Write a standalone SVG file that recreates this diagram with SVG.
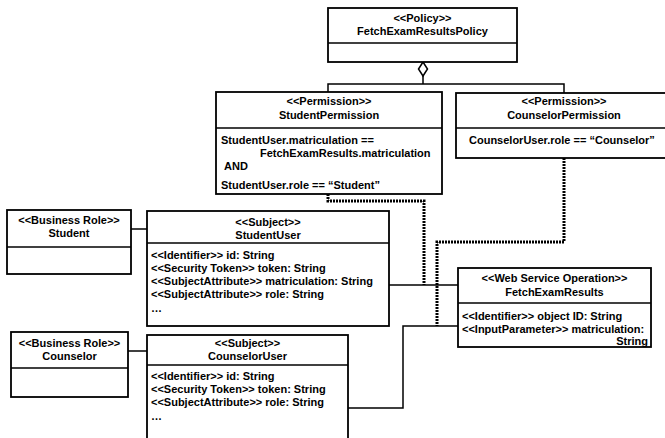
<svg xmlns="http://www.w3.org/2000/svg" width="665" height="438" viewBox="0 0 665 438">
<style>
.box{fill:#fff;stroke:#000;stroke-width:1.8}
.sep{stroke:#000;stroke-width:1.5}
.t{font-family:"Liberation Sans",Arial,sans-serif;font-size:11px;font-weight:bold;fill:#000}
.c{text-anchor:middle}
.e{text-anchor:end}
.ln{fill:none;stroke:#000;stroke-width:1.5}
.dot{fill:none;stroke:#000;stroke-width:3;stroke-dasharray:2 1}
</style>
<rect width="665" height="438" fill="#fff"/>
<g id="connectors">
<polygon points="423,62 427.5,69 423,76 418.5,69" fill="#fff" stroke="#000" stroke-width="1.5"/>
<polyline class="ln" points="423,76 423,84"/>
<polyline class="ln" points="328,92 328,84 564,84 564,93"/>
<polyline class="ln" points="131,229 147,229"/>
<polyline class="ln" points="128,351 147,351"/>
<polyline class="ln" points="389,285 458,285"/>
<polyline class="ln" points="348,408 403,408 403,326 458,326"/>
<polyline class="dot" points="328,194 328,201 424,201 424,285"/>
<polyline class="dot" points="564,158 564,242 437,242 437,326"/>
</g>
<g id="policy">
<rect class="box" x="328" y="8" width="189" height="54"/>
<line class="sep" x1="328" y1="43" x2="517" y2="43"/>
<text class="t c" x="422.5" y="22">&lt;&lt;Policy&gt;&gt;</text>
<text class="t c" x="422.5" y="35">FetchExamResultsPolicy</text>
</g>
<g id="studentPermission">
<rect class="box" x="216" y="92" width="226" height="102"/>
<line class="sep" x1="216" y1="128" x2="442" y2="128"/>
<text class="t c" x="329" y="105">&lt;&lt;Permission&gt;&gt;</text>
<text class="t c" x="329" y="119">StudentPermission</text>
<text class="t" x="221" y="144">StudentUser.matriculation ==</text>
<text class="t" x="260" y="157">FetchExamResults.matriculation</text>
<text class="t" x="224" y="170">AND</text>
<text class="t" x="221" y="189">StudentUser.role == “Student”</text>
</g>
<g id="counselorPermission">
<rect class="box" x="456" y="93" width="216" height="65"/>
<line class="sep" x1="456" y1="128" x2="672" y2="128"/>
<text class="t c" x="564" y="105">&lt;&lt;Permission&gt;&gt;</text>
<text class="t c" x="564" y="119">CounselorPermission</text>
<text class="t" x="469" y="144">CounselorUser.role == “Counselor”</text>
</g>
<g id="studentRole">
<rect class="box" x="7" y="210" width="124" height="64"/>
<line class="sep" x1="7" y1="247" x2="131" y2="247"/>
<text class="t c" x="69" y="224">&lt;&lt;Business Role&gt;&gt;</text>
<text class="t c" x="69" y="237">Student</text>
</g>
<g id="studentUser">
<rect class="box" x="147" y="211" width="242" height="115"/>
<line class="sep" x1="147" y1="243" x2="389" y2="243"/>
<text class="t c" x="268" y="226">&lt;&lt;Subject&gt;&gt;</text>
<text class="t c" x="268" y="239">StudentUser</text>
<text class="t" x="151" y="259">&lt;&lt;Identifier&gt;&gt; id: String</text>
<text class="t" x="151" y="272">&lt;&lt;Security Token&gt;&gt; token: String</text>
<text class="t" x="151" y="285">&lt;&lt;SubjectAttribute&gt;&gt; matriculation: String</text>
<text class="t" x="151" y="298">&lt;&lt;SubjectAttribute&gt;&gt; role: String</text>
<text class="t" x="151" y="312">…</text>
</g>
<g id="webServiceOperation">
<rect class="box" x="458" y="268" width="193" height="79"/>
<line class="sep" x1="458" y1="303" x2="651" y2="303"/>
<text class="t c" x="554.5" y="282">&lt;&lt;Web Service Operation&gt;&gt;</text>
<text class="t c" x="554.5" y="296">FetchExamResults</text>
<text class="t" x="462" y="320">&lt;&lt;Identifier&gt;&gt; object ID: String</text>
<text class="t" x="462" y="333">&lt;&lt;InputParameter&gt;&gt; matriculation:</text>
<text class="t e" x="648" y="345">String</text>
</g>
<g id="counselorRole">
<rect class="box" x="11" y="332" width="117" height="65"/>
<line class="sep" x1="11" y1="368" x2="128" y2="368"/>
<text class="t c" x="69.5" y="347">&lt;&lt;Business Role&gt;&gt;</text>
<text class="t c" x="69.5" y="360">Counselor</text>
</g>
<g id="counselorUser">
<rect class="box" x="147" y="335" width="201" height="110"/>
<line class="sep" x1="147" y1="365" x2="348" y2="365"/>
<text class="t c" x="247.5" y="347">&lt;&lt;Subject&gt;&gt;</text>
<text class="t c" x="247.5" y="360">CounselorUser</text>
<text class="t" x="151" y="380">&lt;&lt;Identifier&gt;&gt; id: String</text>
<text class="t" x="151" y="393">&lt;&lt;Security Token&gt;&gt; token: String</text>
<text class="t" x="151" y="406">&lt;&lt;SubjectAttribute&gt;&gt; role: String</text>
<text class="t" x="151" y="420">…</text>
</g>
</svg>
